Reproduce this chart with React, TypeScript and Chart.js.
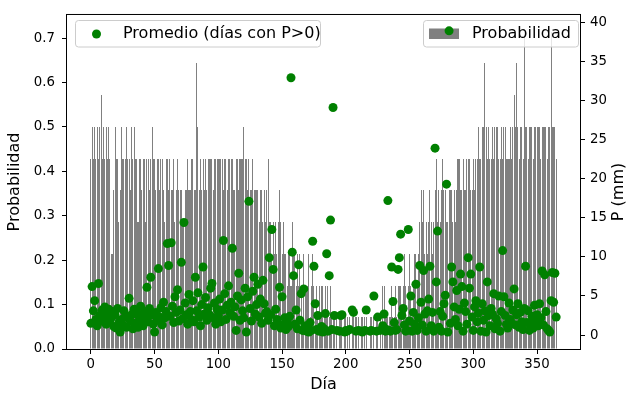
import React, { useEffect, useRef } from 'react';
import { Chart, registerables } from 'chart.js';

Chart.register(...registerables);

// Number of years in the record (probability = rainy years / YEARS)
const YEARS = 14;

// Day of year (0..365)
const days: number[] = Array.from({ length: 366 }, (_, i) => i);

// Years (out of 14) with rain on each day
const rainyYears: number[] = [
  6, 7, 6, 7, 6, 7, 6, 7, 8, 6,
  7, 6, 7, 6, 7, 6, 3, 3, 5, 7,
  6, 6, 4, 5, 7, 6, 6, 6, 7, 6,
  6, 5, 7, 6, 7, 6, 6, 4, 6, 6,
  5, 6, 6, 4, 6, 6, 5, 6, 7, 6,
  6, 5, 6, 6, 5, 6, 6, 5, 4, 6,
  6, 5, 6, 5, 5, 6, 4, 5, 6, 5,
  5, 5, 4, 4, 5, 5, 6, 5, 5, 6,
  6, 5, 5, 9, 7, 5, 6, 5, 6, 5,
  6, 5, 6, 6, 6, 6, 5, 6, 6, 6,
  6, 6, 6, 6, 5, 6, 6, 5, 6, 6,
  6, 6, 5, 5, 6, 6, 5, 6, 6, 6,
  7, 6, 6, 5, 6, 5, 5, 6, 5, 5,
  5, 5, 4, 5, 5, 4, 5, 4, 5, 6,
  4, 4, 3, 4, 3, 4, 3, 4, 5, 4,
  3, 4, 3, 3, 2, 3, 3, 2, 4, 3,
  3, 2, 3, 2, 3, 2, 1, 3, 2, 2,
  2, 3, 1, 2, 3, 2, 1, 2, 1, 2,
  1, 2, 2, 1, 2, 1, 2, 1, 2, 1,
  1, 1, 0, 1, 0, 1, 1, 1, 0, 1,
  1, 1, 0, 1, 0, 1, 1, 0, 1, 0,
  1, 0, 1, 1, 0, 1, 1, 0, 0, 1,
  1, 0, 1, 0, 1, 1, 0, 1, 0, 2,
  2, 1, 1, 1, 1, 1, 2, 1, 1, 2,
  1, 2, 2, 2, 1, 2, 3, 2, 1, 2,
  3, 2, 1, 2, 3, 3, 2, 3, 4, 5,
  4, 5, 3, 4, 3, 4, 5, 4, 3, 4,
  5, 6, 4, 5, 4, 5, 6, 5, 5, 4,
  4, 5, 5, 5, 4, 5, 4, 5, 6, 6,
  5, 5, 6, 5, 5, 6, 6, 6, 5, 5,
  6, 5, 6, 6, 7, 6, 6, 7, 7, 9,
  7, 6, 7, 6, 6, 7, 6, 7, 7, 7,
  6, 6, 7, 6, 7, 7, 6, 6, 6, 7,
  6, 7, 8, 7, 9, 7, 6, 7, 7, 6,
  10, 7, 7, 6, 7, 7, 7, 6, 7, 7,
  7, 7, 7, 6, 7, 7, 7, 7, 6, 7,
  7, 10, 7, 7, 7, 6,
];

// Mean precipitation (mm) over days with P>0 (null = no rainy day)
const meanRain: (number | null)[] = [
  1.5, 6.2, 3.1, 4.4, 2.0, 1.2, 6.6, 2.5, 1.8, 3.2,
  2.4, 3.6, 1.4, 2.8, 3.3, 1.9, 2.2, 3.0, 1.1, 2.6,
  0.9, 3.4, 1.6, 0.4, 2.0, 1.3, 3.1, 2.4, 1.0, 2.2,
  4.7, 1.8, 2.6, 0.8, 3.3, 1.5, 2.9, 1.0, 2.3, 3.7,
  2.0, 1.2, 3.0, 2.4, 6.1, 1.7, 3.4, 7.4, 2.6, 1.4,
  0.4, 2.9, 1.9, 8.5, 2.3, 3.5, 1.3, 4.2, 2.2, 3.0,
  11.7, 8.9, 2.4, 11.8, 3.7, 1.6, 4.9, 2.9, 5.8, 1.8,
  3.2, 9.3, 2.1, 14.4, 4.1, 2.6, 1.4, 5.2, 3.0, 2.0,
  4.4, 1.7, 7.4, 3.1, 5.4, 2.3, 1.2, 3.9, 8.7, 2.7,
  4.8, 1.9, 3.5, 2.6, 6.0, 6.6, 2.2, 4.1, 1.4, 3.3,
  2.5, 4.6, 1.7, 3.2, 12.1, 5.3, 2.0, 3.8, 6.3, 2.9,
  4.2, 11.1, 2.4, 3.6, 0.6, 5.0, 7.9, 1.9, 4.5, 3.1,
  2.2, 6.0, 0.4, 4.9, 17.1, 3.4, 1.8, 5.6, 7.4, 2.7,
  3.9, 6.5, 2.3, 4.6, 1.5, 7.0, 4.0, 2.8, 3.0, 1.9,
  9.9, 2.6, 13.5, 8.4, 1.2, 3.3, 2.0, 1.4, 6.1, 0.9,
  4.9, 1.3, 2.2, 0.7, 1.8, 1.1, 2.4, 32.9, 10.6, 7.6,
  1.4, 3.2, 0.8, 9.0, 1.9, 5.3, 0.6, 5.9, 1.2, 0.5,
  0.9, 0.4, 1.6, 0.6, 12.0, 8.8, 4.0, 0.7, 2.5, 0.5,
  0.6, 1.1, 0.4, 0.8, 2.75, 10.4, 0.5, 7.6, 14.7, 0.7,
  29.1, 2.5, null, 0.6, null, 0.5, 2.5, 2.6, null, 0.4,
  0.6, 0.5, null, 0.7, null, 3.2, 2.9, null, 0.5, null,
  0.6, null, 0.5, 0.4, null, 0.6, 3.2, null, null, 0.5,
  0.6, null, 5.0, null, 0.5, 2.3, null, 0.6, null, 1.2,
  2.7, 0.5, 0.7, 17.2, 0.6, 0.5, 8.7, 4.3, 1.6, 0.6,
  0.7, 8.4, 9.9, 12.9, 2.5, 3.4, 1.3, 0.5, 0.6, 13.5,
  1.8, 5.0, 0.5, 2.9, 1.4, 6.5, 0.6, 2.2, 8.9, 4.2,
  1.3, 8.25, 2.7, 0.5, 3.1, 4.6, 8.8, 1.2, 2.9, 0.5,
  23.9, 6.8, 13.3, 1.0, 3.0, 0.5, 2.4, 4.0, 5.1, 19.3,
  0.4, 38.9, 1.5, 8.7, 6.8, 3.6, 2.0, 5.7, 1.2, 3.3,
  7.8, 6.2, 0.5, 4.1, 3.0, 1.4, 9.9, 6.0, 7.8, 2.3,
  0.6, 3.6, 4.4, 1.7, 2.8, 8.7, 0.5, 4.0, 1.9, 3.1,
  0.4, 6.8, 2.5, 1.2, 3.4, 2.7, 5.3, 0.8, 2.1, 1.5,
  5.0, 0.5, 3.0, 10.8, 4.9, 2.5, 1.4, 0.9, 4.1, 2.0,
  1.5, 3.2, 5.9, 1.3, 2.6, 4.0, 1.0, 2.9, 1.7, 0.7,
  3.4, 8.8, 1.6, 3.1, 0.6, 1.4, 2.4, 0.9, 3.8, 1.7,
  2.6, 1.2, 4.0, 2.2, 8.2, 1.3, 7.7, 3.0, 0.8, 0.6,
  0.4, 4.4, 8.0, 4.2, 7.9, 2.3,
];

const xTicks = [0, 50, 100, 150, 200, 250, 300, 350];
const probTicks = [0, 0.1, 0.2, 0.3, 0.4, 0.5, 0.6, 0.7];
const rainTicks = [0, 5, 10, 15, 20, 25, 30, 35, 40];

const FONT = '"DejaVu Sans", sans-serif';

function roundRectPath(ctx: CanvasRenderingContext2D, x: number, y: number, w: number, h: number, r: number) {
  ctx.beginPath();
  ctx.moveTo(x + r, y);
  ctx.lineTo(x + w - r, y);
  ctx.arcTo(x + w, y, x + w, y + r, r);
  ctx.lineTo(x + w, y + h - r);
  ctx.arcTo(x + w, y + h, x + w - r, y + h, r);
  ctx.lineTo(x + r, y + h);
  ctx.arcTo(x, y + h, x, y + h - r, r);
  ctx.lineTo(x, y + r);
  ctx.arcTo(x, y, x + r, y, r);
  ctx.closePath();
}

function legendBox(ctx: CanvasRenderingContext2D, x: number, y: number, w: number, h: number) {
  ctx.save();
  roundRectPath(ctx, x, y, w, h, 3);
  ctx.fillStyle = 'rgba(255,255,255,0.8)';
  ctx.fill();
  ctx.strokeStyle = '#cccccc';
  ctx.lineWidth = 1;
  ctx.stroke();
  ctx.restore();
}

export default function App() {
  const ref = useRef<HTMLCanvasElement>(null);

  useEffect(() => {
    if (!ref.current) return;
    const barData = days.map((d, i) => ({ x: d, y: rainyYears[i] / YEARS }));
    const pointData = days
      .map((d, i) => ({ x: d, y: meanRain[i] }))
      .filter((p) => p.y !== null);

    const overlay = {
      id: 'overlay',
      beforeDatasetDraw(chart: any, args: any) {
        if (args.index !== 0) return;
        // snap bar edges to whole pixels (like the reference renderer)
        for (const el of args.meta.data) {
          const l = Math.round(el.x - el.width / 2);
          const r = Math.round(el.x + el.width / 2);
          el.x = (l + r) / 2;
          el.width = Math.max(1, r - l);
          el.y = Math.round(el.y);
        }
      },
      afterDatasetDraw(chart: any, args: any) {
        if (args.index !== 0) return;
        const ctx: CanvasRenderingContext2D = chart.ctx;
        // "Probabilidad" legend (belongs to bar axes, below the points)
        legendBox(ctx, 423.5, 20.5, 155, 26.5);
        ctx.save();
        ctx.fillStyle = '#808080';
        ctx.fillRect(429, 28.5, 30, 10.5);
        ctx.fillStyle = '#000';
        ctx.font = `16px ${FONT}`;
        ctx.textAlign = 'left';
        ctx.textBaseline = 'middle';
        ctx.fillText('Probabilidad', 472, 34);
        ctx.restore();
      },
      afterDraw(chart: any) {
        const ctx: CanvasRenderingContext2D = chart.ctx;
        const a = chart.chartArea;
        // "Promedio" legend
        legendBox(ctx, 75.5, 20.5, 245, 26.5);
        ctx.save();
        ctx.fillStyle = '#008000';
        ctx.beginPath();
        ctx.arc(96.5, 34, 4.5, 0, Math.PI * 2);
        ctx.fill();
        ctx.fillStyle = '#000';
        ctx.font = `16px ${FONT}`;
        ctx.textAlign = 'left';
        ctx.textBaseline = 'middle';
        ctx.fillText('Promedio (días con P>0)', 123, 34);
        // frame
        ctx.strokeStyle = '#000';
        ctx.lineWidth = 1;
        ctx.strokeRect(a.left - 0.5, a.top - 0.5, a.right - a.left + 1, a.bottom - a.top + 1);
        // axis titles
        ctx.textAlign = 'center';
        ctx.fillText('Día', (a.left + a.right) / 2, 385);
        ctx.translate(15, (a.top + a.bottom) / 2);
        ctx.rotate(-Math.PI / 2);
        ctx.fillText('Probabilidad', 0, 0);
        ctx.restore();
        ctx.save();
        ctx.fillStyle = '#000';
        ctx.font = `16px ${FONT}`;
        ctx.textAlign = 'center';
        ctx.textBaseline = 'middle';
        ctx.translate(619, (a.top + a.bottom) / 2 + 10);
        ctx.rotate(-Math.PI / 2);
        ctx.fillText('P (mm)', 0, 0);
        ctx.restore();
      },
    };

    const tickFont = { family: FONT, size: 13.3 };
    const gridOpts = {
      display: true,
      drawOnChartArea: false,
      drawTicks: true,
      tickLength: 5,
      tickWidth: 1,
      tickColor: '#000',
      offset: false,
    };

    const chart = new Chart(ref.current, {
      type: 'bar',
      data: {
        datasets: [
          {
            type: 'bar',
            label: 'Probabilidad',
            data: barData,
            backgroundColor: '#808080',
            borderWidth: 0,
            inflateAmount: 0,
            categoryPercentage: 1,
            barPercentage: 0.8,
            xAxisID: 'x',
            yAxisID: 'y',
            order: 2,
          },
          {
            type: 'scatter',
            label: 'Promedio (días con P>0)',
            data: pointData,
            backgroundColor: '#008000',
            borderColor: '#008000',
            borderWidth: 0,
            pointRadius: 4.5,
            xAxisID: 'x',
            yAxisID: 'y2',
            order: 1,
          },
        ],
      } as any,
      options: {
        animation: false,
        responsive: false,
        devicePixelRatio: 1,
        layout: { padding: { top: 13, left: 0, right: 0, bottom: 0 } },
        plugins: { legend: { display: false }, tooltip: { enabled: false } },
        scales: {
          x: {
            type: 'linear',
            min: -18.7,
            max: 383.7,
            offset: false,
            grid: gridOpts,
            border: { display: false },
            afterBuildTicks: (s: any) => { s.ticks = xTicks.map((v) => ({ value: v })); },
            afterFit: (s: any) => { s.height = 45; },
            ticks: { font: tickFont, color: '#000', padding: 3, maxRotation: 0, callback: (v: any) => String(v) },
          },
          y: {
            type: 'linear',
            position: 'left',
            min: 0,
            max: 0.752,
            grid: gridOpts,
            border: { display: false },
            afterBuildTicks: (s: any) => { s.ticks = probTicks.map((v) => ({ value: v })); },
            afterFit: (s: any) => { s.width = 67; },
            ticks: { font: tickFont, color: '#000', padding: 7, callback: (v: any) => Number(v).toFixed(1) },
          },
          y2: {
            type: 'linear',
            position: 'right',
            min: -1.78,
            max: 40.93,
            grid: gridOpts,
            border: { display: false },
            afterBuildTicks: (s: any) => { s.ticks = rainTicks.map((v) => ({ value: v })); },
            afterFit: (s: any) => { s.width = 46; },
            ticks: { font: tickFont, color: '#000', padding: 5, callback: (v: any) => String(v) },
          },
        },
      } as any,
      plugins: [overlay],
    });
    return () => chart.destroy();
  }, []);

  return (
    <div style={{ position: 'absolute', left: 0, top: 0, width: 626, height: 394, background: '#fff' }}>
      <canvas ref={ref} width={626} height={394} style={{ display: 'block' }} />
    </div>
  );
}
